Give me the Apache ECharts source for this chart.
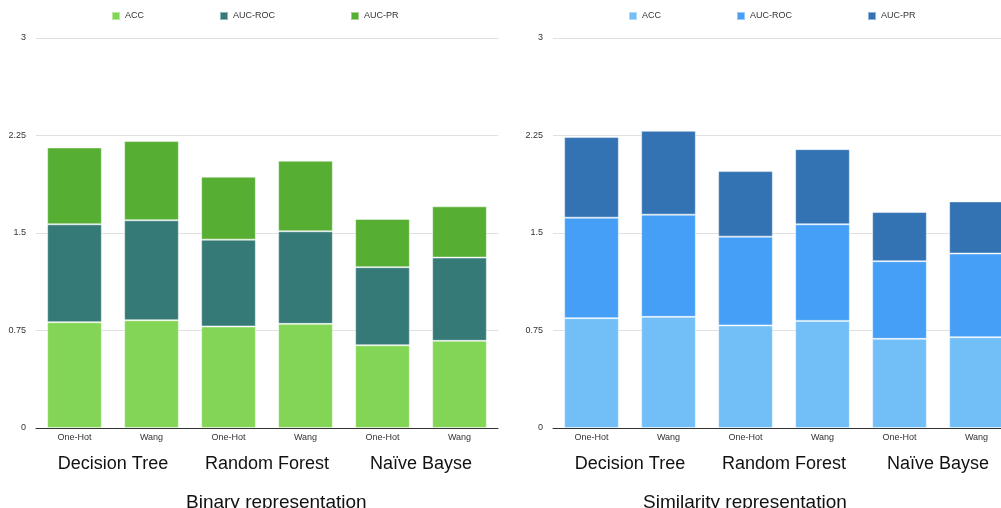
<!DOCTYPE html>
<html>
 <head>
  <meta charset="utf-8">
  <title>Binary vs Similarity representation</title>
  <script src="https://cdn.jsdelivr.net/npm/echarts@6/dist/echarts.min.js"></script>
  <style>
    html, body {
    width: 1001px;
    height: 508px;
    margin: 0;
    padding: 0;
    overflow: hidden;
    background: #fff;
    position: relative;
    }
    #left { position: absolute; left: 0; top: 0; width: 500px; height: 508px; }
    #right { position: absolute; left: 500px; top: 0; width: 520px; height: 508px; }
  </style>
 </head>

<body>
  <div id="left"></div>
  <div id="right"></div>
  <script>
    var encodings = ['One-Hot', 'Wang', 'One-Hot', 'Wang', 'One-Hot', 'Wang'];
    var models = ['Decision Tree', 'Random Forest', 'Naïve Bayse'];
    var metrics = ['ACC', 'AUC-ROC', 'AUC-PR'];

    // binary representation
    var binAcc = [0.814, 0.829, 0.781, 0.801, 0.637, 0.671];
    var binRoc = [0.753, 0.769, 0.668, 0.712, 0.600, 0.640];
    var binPr  = [0.591, 0.609, 0.484, 0.543, 0.371, 0.394];

    // similarity representation
    var simAcc = [0.845, 0.855, 0.789, 0.824, 0.686, 0.699];
    var simRoc = [0.773, 0.786, 0.683, 0.743, 0.597, 0.643];
    var simPr  = [0.620, 0.645, 0.504, 0.578, 0.378, 0.401];

    var bigFont = '"Liberation Sans", "DejaVu Sans", sans-serif';
    var smallFont = 'Arial, "Liberation Sans", sans-serif';

    function makeOption(title, titleLeft, gridLeft, legendLeft, colors, values) {
      return {
        animation: false,
        title: {
          text: title,
          left: titleLeft,
          top: 488,
          textStyle: { fontFamily: bigFont, fontSize: 19, fontWeight: 'normal', color: '#111' }
        },
        legend: {
          data: metrics,
          left: legendLeft,
          top: 6,
          itemWidth: 8,
          itemHeight: 8,
          itemGap: 75,
          icon: 'rect',
          textStyle: { fontFamily: smallFont, fontSize: 9, color: '#333' }
        },
        grid: { left: gridLeft, top: 38, width: 462, height: 390 },
        xAxis: [
          {
            type: 'category',
            data: encodings,
            axisLine: { lineStyle: { color: '#333', width: 1 } },
            axisTick: { show: false },
            axisLabel: { fontFamily: smallFont, fontSize: 9, color: '#333', margin: 5, interval: 0 }
          },
          {
            type: 'category',
            data: models,
            position: 'bottom',
            axisLine: { show: false },
            axisTick: { show: false },
            axisLabel: { fontFamily: bigFont, fontSize: 18, color: '#111', margin: 27, interval: 0 }
          }
        ],
        yAxis: {
          type: 'value',
          min: 0,
          max: 3,
          interval: 0.75,
          axisLine: { show: false },
          axisTick: { show: false },
          axisLabel: { fontFamily: smallFont, fontSize: 9, color: '#333', margin: 10 },
          splitLine: { lineStyle: { color: '#e0e0e0' } }
        },
        series: metrics.map(function (m, i) {
          return {
            name: m,
            type: 'bar',
            stack: 'total',
            barCategoryGap: '29%',
            itemStyle: { color: colors[i], borderColor: 'rgba(255,255,255,0.45)', borderWidth: 1 },
            data: values[i]
          };
        })
      };
    }

    var leftChart = echarts.init(document.getElementById('left'));
    leftChart.setOption(makeOption('Binary representation', 181, 36, 106,
      ['#83d655', '#367a77', '#56ae33'], [binAcc, binRoc, binPr]));

    var rightChart = echarts.init(document.getElementById('right'));
    rightChart.setOption(makeOption('Similarity representation', 138, 53, 123,
      ['#72bff8', '#469ff6', '#3373b4'], [simAcc, simRoc, simPr]));
  </script>
</body>
</html>
